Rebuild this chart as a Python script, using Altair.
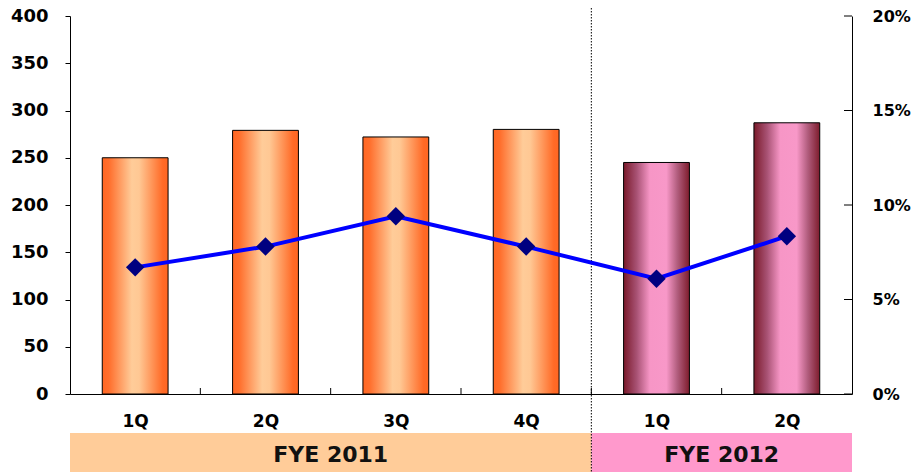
import json

import altair as alt
import pandas as pd

# ---- data -----------------------------------------------------------------
quarters = ["1Q", "2Q", "3Q", "4Q", "1Q", "2Q"]
fiscal_years = ["FYE 2011", "FYE 2011", "FYE 2011", "FYE 2011", "FYE 2012", "FYE 2012"]
sales = [250, 279, 272, 280, 245, 287]
margin = [0.067, 0.078, 0.094, 0.078, 0.061, 0.0835]

left_ticks = [0, 50, 100, 150, 200, 250, 300, 350, 400]
right_ticks = [0.0, 0.05, 0.10, 0.15, 0.20]

fy_names = ["FYE 2011", "FYE 2012"]
fy_colors = ["#FFCC99", "#FF99CC"]

# ---- derived tables ---------------------------------------------------------
W, H = 782, 378
FONT = "DejaVu Sans"

df = pd.DataFrame({
    "idx": list(range(len(quarters))),
    "quarter": quarters,
    "fy": fiscal_years,
    "sales": sales,
    "margin": margin,
})
df["center"] = df["idx"] + 0.5
df["base"] = 0

counts = [fiscal_years.count(n) for n in fy_names]
starts, ends = [], []
pos = 0
for c in counts:
    starts.append(pos)
    pos += c
    ends.append(pos)
periods = pd.DataFrame({
    "fy": fy_names,
    "start": starts,
    "end": ends,
    "mid": [(s + e) / 2 for s, e in zip(starts, ends)],
})
boundaries = pd.DataFrame({"b": list(range(1, len(quarters)))})
right_tick_df = pd.DataFrame({"v": right_ticks})

# ---- scales and axes ------------------------------------------------------------
x_scale = alt.Scale(domain=[0, len(quarters)], nice=False, zero=False)
x_axis = alt.Axis(
    values=[i + 0.5 for i in range(len(quarters))],
    labelExpr=json.dumps(quarters) + "[floor(datum.value)]",
    title=None, grid=False, ticks=False, tickSize=0,
    domainColor="black", domainWidth=1,
    labelFont=FONT, labelFontSize=17, labelFontWeight="bold", labelColor="black",
    labelPadding=19, labelOverlap=False, labelFlush=False,
)
left_scale = alt.Scale(domain=[0, 400], nice=False)
left_axis = alt.Axis(
    orient="left", values=left_ticks, title=None, grid=False,
    tickSize=5, tickColor="black", domainColor="black", domainWidth=1,
    labelFont=FONT, labelFontSize=18, labelFontWeight="bold", labelColor="black",
    labelPadding=17, labelFlush=False,
)
right_scale = alt.Scale(domain=[0, 0.20], nice=False)
right_axis = alt.Axis(
    orient="right", values=right_ticks, format=".0%", title=None, grid=False,
    ticks=False, tickSize=0, domainColor="black", domainWidth=1,
    labelFont=FONT, labelFontSize=16, labelFontWeight="bold", labelColor="black",
    labelPadding=20, labelFlush=False,
)


def xenc(field):
    return alt.X(field, scale=x_scale, axis=x_axis)


def gradient(stops):
    return alt.LinearGradient(
        gradient="linear", x1=0, x2=1, y1=0, y2=0,
        stops=[alt.GradientStop(offset=o, color=c) for o, c in stops],
    )


orange_fill = gradient([
    (0.0, "#FF6622"), (0.1, "#FF6E2C"), (0.45, "#FFCC99"),
    (0.56, "#FFC894"), (0.92, "#FF6A26"), (1.0, "#FF6622"),
])
pink_fill = gradient([
    (0.0, "#7A1A2A"), (0.2, "#A85274"), (0.4, "#F796C6"),
    (0.65, "#F898C8"), (0.82, "#B05C7C"), (1.0, "#7E1C2C"),
])

# ---- fiscal-year band under the axis ------------------------------------------
band = alt.Chart(periods).mark_rect().encode(
    x=xenc("start:Q"), x2="end:Q",
    y=alt.value(H + 39), y2=alt.value(H + 78),
    fill=alt.Fill("fy:N", scale=alt.Scale(domain=fy_names, range=fy_colors), legend=None),
)
band_text = alt.Chart(periods).mark_text(
    font=FONT, fontSize=22, fontWeight="bold", color="#111111", baseline="middle",
).encode(x=xenc("mid:Q"), y=alt.value(H + 61), text="fy:N")


# ---- bars -------------------------------------------------------------------------
def bars(fy, fill):
    return alt.Chart(df).transform_filter(
        alt.datum.fy == fy
    ).transform_calculate(
        x0="datum.idx + 0.2475", x1="datum.idx + 0.7525"
    ).mark_bar(fill=fill, stroke="black", strokeWidth=1).encode(
        x=xenc("x0:Q"), x2="x1:Q",
        y=alt.Y("sales:Q", scale=left_scale, axis=left_axis),
        y2="base:Q",
    )


bars_2011 = bars("FYE 2011", orange_fill)
bars_2012 = bars("FYE 2012", pink_fill)

# inward ticks between quarters
x_ticks = alt.Chart(boundaries).mark_rule(color="black", strokeWidth=1).encode(
    x=xenc("b:Q"), y=alt.value(H), y2=alt.value(H - 6),
)

# dotted divider between fiscal years
divider = alt.Chart(periods.iloc[:1]).mark_rule(
    color="black", strokeWidth=1, strokeDash=[1.5, 1.5]
).encode(x=xenc("end:Q"), y=alt.value(-8), y2=alt.value(H + 78))

left_group = alt.layer(band, band_text, bars_2011, bars_2012, x_ticks, divider)

# ---- margin line (right axis) ---------------------------------------------------
line = alt.Chart(df).mark_line(color="#0000FF", strokeWidth=4).encode(
    x=xenc("center:Q"),
    y=alt.Y("margin:Q", scale=right_scale, axis=right_axis),
)
points = alt.Chart(df).mark_point(
    shape="diamond", filled=True, color="#000080", size=340, opacity=1
).encode(
    x=xenc("center:Q"),
    y=alt.Y("margin:Q", scale=right_scale, axis=right_axis),
)
right_tick_marks = alt.Chart(right_tick_df).mark_rule(color="black", strokeWidth=1).encode(
    y=alt.Y("v:Q", scale=right_scale, axis=right_axis),
    x=alt.value(W - 8), x2=alt.value(W),
)

right_group = alt.layer(line, points, right_tick_marks)

chart = alt.layer(left_group, right_group).resolve_scale(
    y="independent"
).properties(
    width=W, height=H,
    padding={"left": 70, "top": 16, "right": 60, "bottom": 78},
    autosize=alt.AutoSizeParams(type="none"),
    background="white",
).configure_view(stroke=None)

chart.save("out.html", embed_options={"renderer": "svg", "actions": False})
